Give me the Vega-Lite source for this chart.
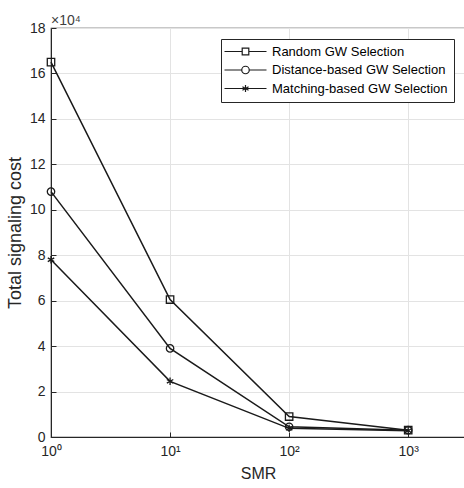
{
  "$schema": "https://vega.github.io/schema/vega-lite/v6.json",
  "autosize": "none",
  "padding": {"left": 51, "top": 28, "right": 0, "bottom": 51},
  "width": 414,
  "height": 409,
  "title": {"text": "×10⁴", "anchor": "start", "frame": "group", "fontSize": 14, "font": "Liberation Sans", "fontWeight": "normal", "color": "#404040", "offset": -7},
  "config": {
    "view": {"stroke": "#262626", "strokeWidth": 1.2},
    "font": "Liberation Sans",
    "axis": {"domainColor": "#262626", "tickColor": "#262626", "labelColor": "#262626", "titleColor": "#262626", "labelFont": "Liberation Sans", "titleFont": "Liberation Sans", "titleFontWeight": "normal", "gridColor": "#e3e3e3", "gridWidth": 1, "labelFontSize": 14, "tickSize": -5}
  },
  "data": {"values": [
    {"series": "Random GW Selection", "smr": 1, "cost": 165000},
    {"series": "Random GW Selection", "smr": 10, "cost": 60500},
    {"series": "Random GW Selection", "smr": 100, "cost": 9000},
    {"series": "Random GW Selection", "smr": 1000, "cost": 3000},
    {"series": "Distance-based GW Selection", "smr": 1, "cost": 108000},
    {"series": "Distance-based GW Selection", "smr": 10, "cost": 39000},
    {"series": "Distance-based GW Selection", "smr": 100, "cost": 4500},
    {"series": "Distance-based GW Selection", "smr": 1000, "cost": 3000},
    {"series": "Matching-based GW Selection", "smr": 1, "cost": 78000},
    {"series": "Matching-based GW Selection", "smr": 10, "cost": 24500},
    {"series": "Matching-based GW Selection", "smr": 100, "cost": 3800},
    {"series": "Matching-based GW Selection", "smr": 1000, "cost": 2800}
  ]},
  "encoding": {
    "x": {"field": "smr", "type": "quantitative", "scale": {"type": "log", "domain": [1, 3000], "nice": false},
      "axis": {"title": "SMR", "titleFontSize": 16, "titlePadding": 7, "values": [1, 10, 100, 1000], "grid": true, "labelPadding": 12, "labelFlush": false,
        "labelExpr": "'10' + (datum.value == 1 ? '⁰' : datum.value == 10 ? '¹' : datum.value == 100 ? '²' : '³')"}},
    "y": {"field": "cost", "type": "quantitative", "scale": {"domain": [0, 180000], "nice": false},
      "axis": {"title": "Total signaling cost", "titleFontSize": 18, "titlePadding": 5, "values": [0, 20000, 40000, 60000, 80000, 100000, 120000, 140000, 160000, 180000], "grid": true, "labelPadding": 11,
        "labelExpr": "format(datum.value / 10000, 'd')"}}
  },
  "layer": [
    {"mark": {"type": "line", "color": "#1a1a1a", "strokeWidth": 1.5},
     "encoding": {"detail": {"field": "series"}}},
    {"mark": {"type": "point", "filled": false, "stroke": "#1a1a1a", "strokeWidth": 1.3, "opacity": 1, "size": 55},
     "encoding": {"shape": {"field": "series", "type": "nominal",
       "scale": {"domain": ["Random GW Selection", "Distance-based GW Selection", "Matching-based GW Selection"],
                 "range": ["square", "circle", "M0,-1V1M-0.87,-0.5L0.87,0.5M-0.87,0.5L0.87,-0.5"]},
       "legend": null}}
    },
    {"transform": [{"filter": "false"}],
     "mark": {"type": "point", "filled": false, "stroke": "#1a1a1a", "strokeWidth": 1.2, "opacity": 1},
     "encoding": {"shape": {"field": "series", "type": "nominal",
       "scale": {"domain": ["Random GW Selection", "Distance-based GW Selection", "Matching-based GW Selection"],
                 "range": ["M-1.8,0H1.74M3.06,0H6.6M1.74,-0.66H3.06V0.66H1.74Z", "M-1.8,0H1.65M3.15,0H6.6M1.65,0A0.75,0.75 0 1,0 3.15,0A0.75,0.75 0 1,0 1.65,0Z", "M-1.8,0H6.6M2.4,-0.7V0.7M1.79,-0.35L3.01,0.35M1.79,0.35L3.01,-0.35"]},
       "legend": {"title": null, "orient": "top-right", "offset": 11, "fillColor": "white", "strokeColor": "#262626", "padding": 6,
         "labelFont": "Liberation Sans", "labelFontSize": 13, "labelColor": "#000000", "labelLimit": 400, "symbolSize": 100, "symbolStrokeColor": "#1a1a1a",
         "symbolFillColor": "transparent", "symbolStrokeWidth": 1.2, "labelOffset": 32, "rowPadding": 4.5}}}
    }
  ],
  "resolve": {"scale": {"shape": "independent"}, "legend": {"shape": "independent"}}
}
